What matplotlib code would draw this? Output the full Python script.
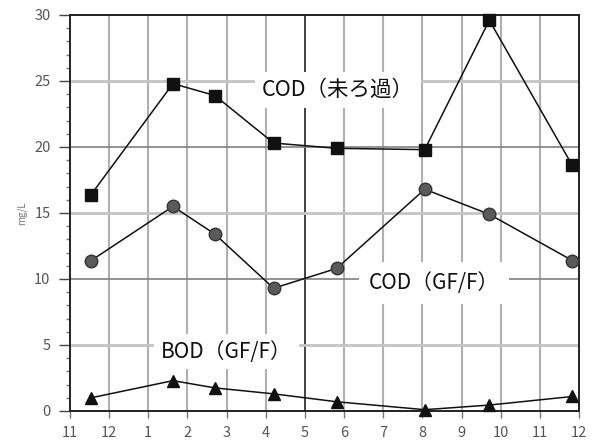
import matplotlib
matplotlib.use("Agg")
import matplotlib.pyplot as plt
from matplotlib.ticker import MultipleLocator

plt.rcParams['font.family'] = ['Noto Sans CJK JP', 'DejaVu Sans']

# x positions in months counted from the start of November (0 = Nov of first year)
sample_x = [0.54, 2.63, 3.70, 5.20, 6.81, 9.06, 10.71, 12.83]
cod_raw = [16.4, 24.8, 23.9, 20.3, 19.9, 19.8, 29.6, 18.6]
cod_gff = [11.4, 15.5, 13.4, 9.3, 10.8, 16.8, 14.9, 11.4]
bod_gff = [1.0, 2.3, 1.75, 1.3, 0.7, 0.1, 0.45, 1.1]
month_labels = ['11', '12', '1', '2', '3', '4', '5', '6', '7', '8', '9', '10', '11', '12']
y_ticks = [0, 5, 10, 15, 20, 25, 30]

fig = plt.figure(figsize=(5.92, 4.43), dpi=100)
ax = fig.add_axes([70/592, 1-411/443, (579-70)/592, (411-15)/443])
ax.set_xlim(0, 13)
ax.set_ylim(0, 30)

# grid
for i in range(1, 13):
    if i == 6:
        ax.axvline(i, color='#222222', lw=1.2, zorder=1)
    else:
        ax.axvline(i, color='#b0b0b0', lw=1.5, zorder=1)
for yv in [5, 10, 15, 20, 25]:
    if yv in (10, 20):
        ax.axhline(yv, color='#808080', lw=1.2, zorder=1)
    else:
        ax.axhline(yv, color='#c4c4c4', lw=2.0, zorder=1)

ax.plot(sample_x, cod_raw, color='#111111', lw=1.1, marker='s', ms=9,
        mfc='#111111', mec='#111111', zorder=4, clip_on=False)
ax.plot(sample_x, cod_gff, color='#111111', lw=1.1, marker='o', ms=9,
        mfc='#5a5a5a', mec='#333333', zorder=4, clip_on=False)
ax.plot(sample_x, bod_gff, color='#111111', lw=1.1, marker='^', ms=9,
        mfc='#111111', mec='#111111', zorder=4, clip_on=False)

ax.text(4.9, 24.3, 'COD（未ろ過）', fontsize=15.5, color='#111111', va='center',
        ha='left', bbox=dict(facecolor='white', edgecolor='none', pad=5), zorder=2)
ax.text(7.62, 9.7, 'COD（GF/F）', fontsize=15, color='#111111', va='center',
        ha='left', bbox=dict(facecolor='white', edgecolor='none', pad=7), zorder=2)
ax.text(2.32, 4.5, 'BOD（GF/F）', fontsize=15, color='#111111', va='center',
        ha='left', bbox=dict(facecolor='white', edgecolor='none', pad=5), zorder=2)

ax.set_xticks(range(14))
ax.set_xticklabels(month_labels)
ax.set_yticks(y_ticks)
ax.set_yticklabels([str(v) for v in y_ticks])
ax.yaxis.set_minor_locator(MultipleLocator(1))
ax.tick_params(axis='y', which='major', length=8, width=1, color='#444444',
               labelsize=10.5, labelcolor='#555555', pad=6)
ax.tick_params(axis='y', which='minor', length=3, width=1, color='#777777')
ax.tick_params(axis='x', which='major', length=5, width=1, color='#777777',
               labelsize=10.5, labelcolor='#555555', pad=6)

for s in ax.spines.values():
    s.set_color('#222222')
    s.set_linewidth(1.4)

ax.set_ylabel('mg/L', fontsize=7, color='#777777', labelpad=5)

fig.savefig('out.png', dpi=100)
